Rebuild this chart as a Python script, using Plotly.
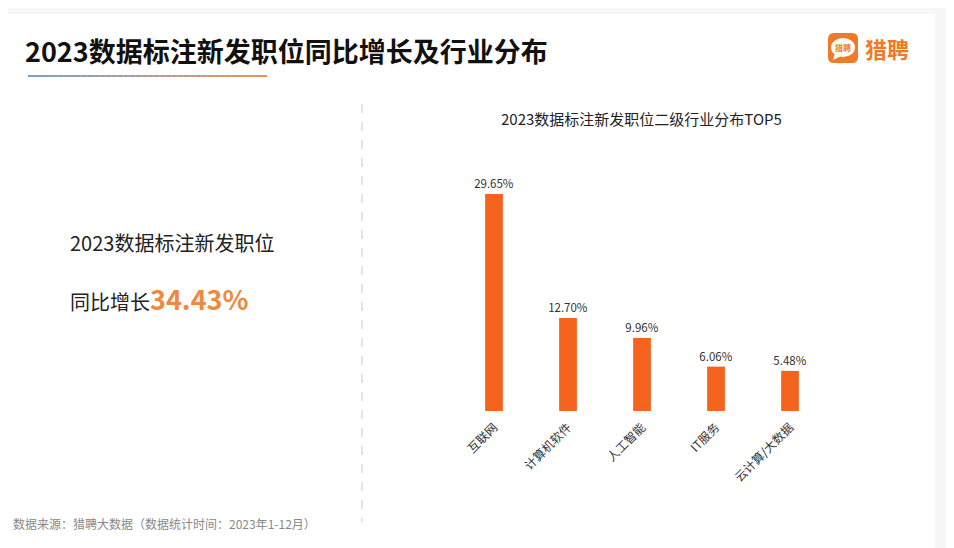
import plotly.graph_objects as go

categories = ["互联网", "计算机软件", "人工智能", "IT服务", "云计算/大数据"]
shares = [29.65, 12.70, 9.96, 6.06, 5.48]
value_labels = ["29.65%", "12.70%", "9.96%", "6.06%", "5.48%"]
growth_label = "34.43%"

OFF = 8  # browser page margin
W, H = 954 - OFF, 548 - OFF
FONT = "Noto Sans CJK SC"
BAR = "#F5641E"

fig = go.Figure()
fig.add_trace(go.Bar(
    x=categories, y=shares, text=value_labels, textposition="outside",
    textfont=dict(size=11.5, color="#333333", family=FONT), constraintext="none",
    marker=dict(color=BAR, line=dict(width=0)),
    cliponaxis=False, hoverinfo="skip",
))

def px(x):
    return (x - OFF) / W

def py(y):
    return 1 - (y - OFF) / H

shapes = []
# background card
shapes.append(dict(type="rect", xref="paper", yref="paper", x0=px(0), x1=px(935), y0=py(548), y1=py(14),
                   fillcolor="white", line=dict(width=0), layer="below"))
# gradient underline
x_start, x_end, n = 28, 267, 40
c0 = (120, 160, 205)
c1 = (230, 150, 90)
for i in range(n):
    t = i / (n - 1)
    c = tuple(int(c0[k] + (c1[k] - c0[k]) * t) for k in range(3))
    xa = x_start + (x_end - x_start) * i / n
    xb = x_start + (x_end - x_start) * (i + 1) / n
    shapes.append(dict(type="line", xref="paper", yref="paper", x0=px(xa), x1=px(xb),
                       y0=py(76), y1=py(76), line=dict(color="rgb(%d,%d,%d)" % c, width=2)))
# dashed divider
shapes.append(dict(type="line", xref="paper", yref="paper", x0=px(362), x1=px(362),
                   y0=py(104), y1=py(522), line=dict(color="#c8c8c8", width=1, dash="dash")))
# logo rounded square
x0, y0, x1, y1, r = 828, 33, 858, 63, 6
path = (f"M {px(x0+r)},{py(y0)} L {px(x1-r)},{py(y0)} Q {px(x1)},{py(y0)} {px(x1)},{py(y0+r)} "
        f"L {px(x1)},{py(y1-r)} Q {px(x1)},{py(y1)} {px(x1-r)},{py(y1)} "
        f"L {px(x0+r)},{py(y1)} Q {px(x0)},{py(y1)} {px(x0)},{py(y1-r)} "
        f"L {px(x0)},{py(y0+r)} Q {px(x0)},{py(y0)} {px(x0+r)},{py(y0)} Z")
shapes.append(dict(type="path", xref="paper", yref="paper", path=path,
                   fillcolor="#F07A28", line=dict(width=0)))
# speech bubble
shapes.append(dict(type="circle", xref="paper", yref="paper", x0=px(831), x1=px(855),
                   y0=py(57), y1=py(38), fillcolor="white", line=dict(width=0)))
shapes.append(dict(type="path", xref="paper", yref="paper",
                   path=f"M {px(835)},{py(53)} L {px(833)},{py(60)} L {px(841)},{py(56)} Z",
                   fillcolor="white", line=dict(width=0)))

def ann(text, x, y, size, color, xanchor="left"):
    return dict(text=text, x=px(x), y=py(y), xref="paper", yref="paper", xanchor=xanchor,
                yanchor="middle", font=dict(size=size, color=color, family=FONT), showarrow=False)

annotations = [
    ann("<b>2023数据标注新发职位同比增长及行业分布</b>", 23, 51, 27, "#111111"),
    ann("<b>猎聘</b>", 843, 47.5, 8, "#F07A28", "center"),
    ann("<b>猎聘</b>", 863, 48, 22, "#F07A28"),
    ann("2023数据标注新发职位二级行业分布TOP5", 641, 118, 15, "#222222", "center"),
    ann("2023数据标注新发职位", 68, 242, 20, "#222222"),
    ann("同比增长<span style='font-size:27px;color:#EE8A3E'><b>" + growth_label + "</b></span>",
        68, 298, 20, "#222222"),
    ann("数据来源：猎聘大数据（数据统计时间：2023年1-12月）", 11, 523, 12, "#888888"),
]

fig.update_layout(
    width=W, height=H, margin=dict(l=0, r=0, t=0, b=0),
    paper_bgcolor="#f7f7f7", plot_bgcolor="rgba(0,0,0,0)",
    showlegend=False, bargap=0.76,
    shapes=shapes, annotations=annotations,
    font=dict(family=FONT),
    xaxis=dict(domain=[px(457), px(827)], showgrid=False, showline=False, zeroline=False,
               tickangle=-45, tickfont=dict(size=12, color="#333333", family=FONT), ticks="",
               ticklabelstandoff=6),
    yaxis=dict(domain=[py(411), py(169.4)], range=[0, 33], visible=False),
)

fig.write_html("out.html")
